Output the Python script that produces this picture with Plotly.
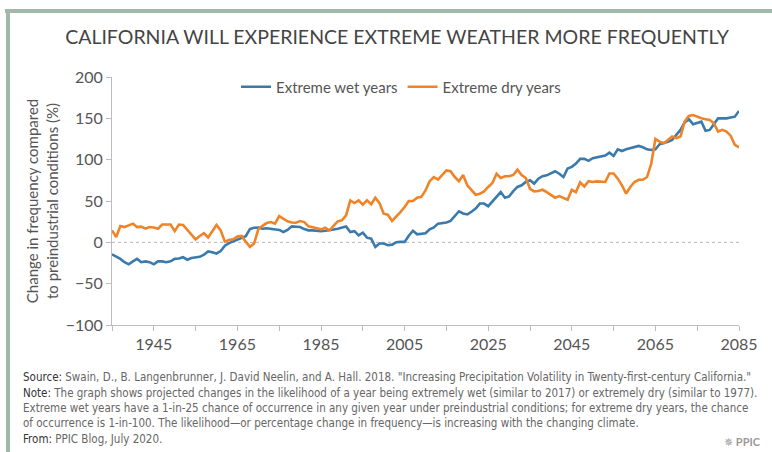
import plotly.graph_objects as go

years = list(range(1935, 2086))

wet_years = [
    -14.5, -17, -20, -24, -26.6, -23, -20, -24, -23, -24,
    -26.6, -23, -23, -24, -23, -20, -19.5, -18, -21, -19,
    -18.5, -17.5, -15, -11, -12, -13.5, -10.5, -4, -1, 1,
    3, 5, 7.5, 16, 17.7, 18, 16.5, 17, 16.5, 16,
    15, 12.5, 15, 19.3, 19, 18.5, 16, 14.5, 14.5, 14,
    13.5, 14, 14.5, 15.5, 16.5, 18, 19.3, 12.5, 13.5, 8.5,
    11.7, 5.6, 4.4, -5.6, -1.5, -1.5, -3.5, -2.8, 0, 0.5,
    0.5, 8, 14, 9.7, 10.5, 11, 15.7, 18, 22.6, 23,
    24, 26, 31.4, 37.6, 35, 33.8, 37, 40.8, 46.9, 46.9,
    43.7, 49, 55, 60.8, 54, 55.5, 62, 67, 69, 73,
    75, 71, 77, 80, 81, 84, 86, 83, 79, 89.3,
    91.3, 95.3, 101, 101, 98.6, 101.7, 102.5, 103.7, 104.9, 108.5,
    104.5, 112.5, 110.5, 112.5, 113.7, 115, 116.6, 115, 112.5, 111.7,
    112.5, 118.6, 119.8, 121.8, 123.8, 129.8, 136, 145, 149, 142.9,
    144.9, 146, 135, 136, 143, 150, 150, 150, 151, 152,
    159,
]

dry_years = [
    14.5, 6.5, 19.7, 18.5, 20.5, 22.6, 18.5, 19, 16.5, 18.5,
    18, 16.5, 21.5, 21.5, 21.5, 13.5, 21.5, 21, 15, 9,
    3.6, 7.7, 11, 6, 13, 21, 14.5, 0.8, 2.8, 3.6,
    7, 7.7, 0.8, -5.4, -1.3, 15.7, 20, 23.3, 24.5, 22.6,
    31.8, 28.6, 25.4, 24, 23.7, 25.8, 24.5, 19.3, 17.7, 17,
    15.7, 17.7, 14.5, 20.5, 25.4, 26.6, 32.6, 50.7, 47.5, 50.7,
    45.5, 50.7, 46, 53.9, 47.5, 34.6, 33.4, 25.8, 30.6, 36.6,
    42.7, 49.9, 50, 54, 55, 62.8, 74, 79, 76, 82,
    87, 86, 79, 74, 81.5, 69, 63.7, 57.6, 58.8, 61.6,
    67, 71.8, 83, 77.8, 80, 80, 81.5, 88, 81.5, 77.8,
    64.8, 61.6, 62, 63.6, 60.8, 57, 54, 56, 54, 51.5,
    63.6, 60.8, 72.7, 67.4, 74, 73, 73.7, 73.7, 73, 83.3,
    83.3, 77, 69, 59, 67, 73, 75.7, 75.7, 79, 95,
    125, 121.8, 119.8, 123.8, 128, 126, 128, 146, 153, 154,
    152, 150, 149, 148, 144, 134, 136, 134, 129, 118,
    115,
]

x_tick_vals = [1945, 1965, 1985, 2005, 2025, 2045, 2065, 2085]
y_tick_vals = [-100, -50, 0, 50, 100, 150, 200]

series_names = ["Extreme wet years", "Extreme dry years"]
series_colors = ["#3a7aad", "#ee8427"]

W, H = 772, 452
L, R, T, B = 112, 33, 77, 127
PW, PH = W - L - R, H - T - B


def px(x):
    return (x - L) / PW


def py(y):
    return (H - B - y) / PH


fig = go.Figure()
for name, vals, col in zip(series_names, [wet_years, dry_years], series_colors):
    fig.add_trace(go.Scatter(x=years, y=vals, mode="lines", name=name,
                             line=dict(color=col, width=2.6)))

# zero reference line
fig.add_shape(type="line", xref="x", yref="y", x0=1935, x1=2085, y0=0, y1=0,
              line=dict(color="#b5b5b5", width=1, dash="dot"), layer="below")

# frame bars
fig.add_shape(type="rect", xref="paper", yref="paper",
              x0=px(5), x1=px(772), y0=py(13), y1=py(9),
              fillcolor="#a3b8ad", line=dict(width=0))
fig.add_shape(type="rect", xref="paper", yref="paper",
              x0=px(6), x1=px(10), y0=py(452), y1=py(9),
              fillcolor="#a3b8ad", line=dict(width=0))

foot_font = "Liberation Sans Narrow, DejaVu Sans Condensed, Arial Narrow, sans-serif"
foot_lines = [
    ("Source:", " Swain, D., B. Langenbrunner, J. David Neelin, and A. Hall. 2018. \"Increasing Precipitation Volatility in Twenty-first-century California.\""),
    ("Note:", " The graph shows projected changes in the likelihood of a year being extremely wet (similar to 2017) or extremely dry (similar to 1977)."),
    ("", "Extreme wet years have a 1-in-25 chance of occurrence in any given year under preindustrial conditions; for extreme dry years, the chance"),
    ("", "of occurrence is 1-in-100. The likelihood\u2014or percentage change in frequency\u2014is increasing with the changing climate."),
    ("From:", " PPIC Blog, July 2020."),
]
foot_y = [377, 393, 408, 423, 439]
annotations = []
for (lbl, txt), yy in zip(foot_lines, foot_y):
    t = (f"<span style='color:#333'>{lbl}</span>" if lbl else "") + txt
    annotations.append(dict(xref="paper", yref="paper", x=px(21), y=py(yy),
                            xanchor="left", yanchor="middle", showarrow=False,
                            text=t, font=dict(family=foot_font, size=11.5, color="#666")))

annotations.append(dict(xref="paper", yref="paper", x=px(722), y=py(441),
                        xanchor="left", yanchor="middle", showarrow=False,
                        text="\u2735 <b>PPIC</b>",
                        font=dict(family="Lato, sans-serif", size=11, color="#999")))

fig.update_layout(
    width=W, height=H,
    margin=dict(l=L, r=R, t=T, b=B),
    paper_bgcolor="white", plot_bgcolor="white",
    title=dict(text="CALIFORNIA WILL EXPERIENCE EXTREME WEATHER MORE FREQUENTLY",
               x=px(397), xanchor="center", xref="paper", y=1 - 37 / H, yanchor="middle",
               font=dict(family="Lato, sans-serif", size=19.5, color="#444")),
    font=dict(family="Lato, sans-serif", color="#555"),
    showlegend=True,
    legend=dict(orientation="h", x=px(236), y=py(87), xanchor="left", yanchor="middle",
                font=dict(size=15, color="#555"), itemwidth=30,
                bgcolor="rgba(0,0,0,0)", tracegroupgap=0),
    xaxis=dict(range=[1935, 2085], tickvals=x_tick_vals, ticktext=[str(v) for v in x_tick_vals],
               showgrid=False, zeroline=False, showline=True, linecolor="#bdbdbd", linewidth=1,
               ticks="outside", ticklen=5, tickcolor="#bdbdbd",
               minor=dict(dtick=10, tick0=1935, ticks="outside", ticklen=5, tickcolor="#bdbdbd"),
               tickfont=dict(size=16, color="#555")),
    yaxis=dict(range=[-100, 200], tickvals=y_tick_vals, showgrid=False, zeroline=False,
               showline=True, linecolor="#bdbdbd", linewidth=1,
               ticks="outside", ticklen=5, tickcolor="#bdbdbd",
               tickfont=dict(size=16, color="#555"),
               title=dict(text="Change in frequency compared<br>to preindustrial conditions (%)",
                          font=dict(size=15, color="#555"), standoff=3)),
    annotations=annotations,
)

fig.write_html("out.html", config={"displayModeBar": False},
               post_script="document.body.style.margin='0';document.body.style.padding='0';")
